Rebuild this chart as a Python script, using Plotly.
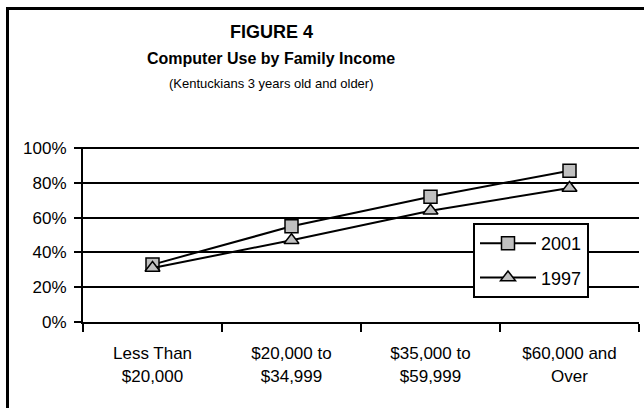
import plotly.graph_objects as go

categories = ["Less Than<br>$20,000", "$20,000 to<br>$34,999", "$35,000 to<br>$59,999", "$60,000 and<br>Over"]
series_2001 = [33, 55, 72, 87]
series_1997 = [31, 47, 64, 77]
y_ticks = [0, 20, 40, 60, 80, 100]
y_tick_labels = ["0%", "20%", "40%", "60%", "80%", "100%"]

FONT = "Liberation Sans, Arial, sans-serif"
W, H = 644, 408
L, R, T, B = 83, 5, 147, 86
PW, PH = W - L - R, H - T - B

fig = go.Figure()
fig.add_trace(go.Scatter(
    x=categories, y=series_2001, name="2001", mode="lines+markers",
    line=dict(color="black", width=2),
    marker=dict(symbol="square", size=13, color="#c0c0c0", line=dict(color="black", width=1.5)),
    legendgroup="a",
))
fig.add_trace(go.Scatter(
    x=categories, y=series_1997, name="1997", mode="lines+markers",
    line=dict(color="black", width=2),
    marker=dict(symbol="triangle-up", size=13, color="#c0c0c0", line=dict(color="black", width=1.5)),
    legendgroup="b",
))

fig.update_layout(
    width=W, height=H,
    margin=dict(l=L, r=R, t=T, b=B),
    paper_bgcolor="white", plot_bgcolor="white",
    font=dict(family=FONT, size=17, color="black"),
    showlegend=True,
    legend=dict(
        x=(473 - L) / PW, y=(322 - 223) / PH,
        xanchor="left", yanchor="top",
        bgcolor="white", bordercolor="black", borderwidth=2,
        font=dict(family=FONT, size=18, color="black"),
        tracegroupgap=8, itemwidth=56,
    ),
    xaxis=dict(
        type="category", range=[-0.5, 3.5], tickson="boundaries",
        showline=True, linecolor="black", linewidth=2,
        ticks="outside", ticklen=8, tickwidth=2, tickcolor="black",
        ticklabelstandoff=15,
        showgrid=False, tickfont=dict(family=FONT, size=17, color="black"),
    ),
    yaxis=dict(
        range=[0, 100.6], tickvals=y_ticks, ticktext=y_tick_labels,
        showline=True, linecolor="black", linewidth=2,
        ticks="outside", ticklen=7, tickwidth=2, tickcolor="black",
        ticklabelstandoff=4,
        showgrid=True, gridcolor="black", gridwidth=2, zeroline=False,
        tickfont=dict(family=FONT, size=17, color="black"),
    ),
)

tx = (271 - L) / PW
fig.add_annotation(text="<b>FIGURE 4</b>", xref="paper", yref="paper",
                   x=tx, y=1 + (T - 32) / PH,
                   showarrow=False, font=dict(family=FONT, size=18, color="black"),
                   xanchor="center", yanchor="middle")
fig.add_annotation(text="<b>Computer Use by Family Income</b>", xref="paper", yref="paper",
                   x=tx, y=1 + (T - 58) / PH,
                   showarrow=False, font=dict(family=FONT, size=16, color="black"),
                   xanchor="center", yanchor="middle")
fig.add_annotation(text="(Kentuckians 3 years old and older)", xref="paper", yref="paper",
                   x=tx, y=1 + (T - 83) / PH,
                   showarrow=False, font=dict(family=FONT, size=13, color="black"),
                   xanchor="center", yanchor="middle")

# outer frame (left and top edges visible)
fig.add_shape(type="path", xref="paper", yref="paper",
              path="M {x0},{y0} L {x0},{y1} L {x2},{y1}".format(
                  x0=(7.5 - L) / PW, y0=-(B + 20) / PH,
                  y1=1 + (T - 8.5) / PH, x2=1 + (R + 20) / PW),
              line=dict(color="black", width=3))

fig.write_html("out.html")
